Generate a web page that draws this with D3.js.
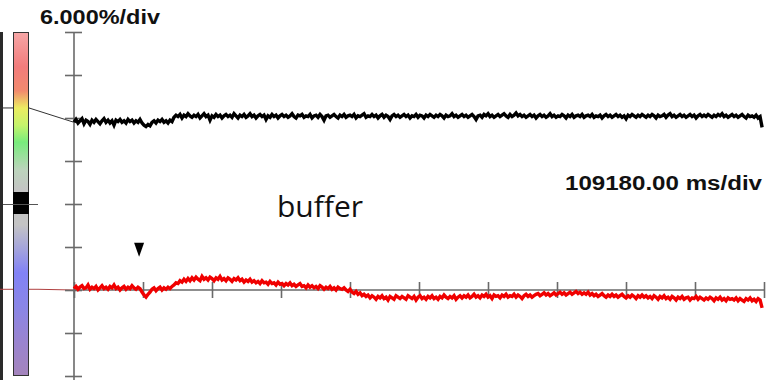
<!DOCTYPE html>
<html>
<head>
<meta charset="utf-8">
<script src="https://cdn.jsdelivr.net/npm/d3@7"></script>
<style>
  html, body { margin: 0; padding: 0; background: #fff; }
  svg { display: block; }
</style>
</head>
<body>
<svg id="chart" width="771" height="380"></svg>
<script>
// ---------- data ----------
const msPerDiv = 109180;          // x scale: ms per division
const pctPerDiv = 6;              // y scale: % per division
const xDivs = 10;
const yTickValues = [-12, -6, 0, 6, 12, 18, 24, 30, 36];
const xTickValues = [0,1,2,3,4,5,6,7,8,9,10].map(d => d * msPerDiv);
const sampleInterval = 3165;      // ms between plotted samples
const yLabel = "6.000%/div";
const xLabel = "109180.00 ms/div";
const annotation = "buffer";
const markerTime = 103000;        // ms, event marker
const markerLevel = 5.6;          // %

// black channel (upper trace), %
const blackTrace = [
  23.4, 23.8, 23.3, 23.6, 23.9, 23.2, 23.7, 23.5, 23.1, 23.7, 23.4, 23.8, 23.5, 23.2, 23.6,
  23.9, 23.4, 23.7, 23.3, 23.6, 23.0, 23.7, 23.5, 23.8, 23.4, 23.6, 23.3, 23.8, 23.5, 23.7,
  23.3, 23.6, 23.4, 23.8, 23.3, 23.0, 22.8, 23.1, 22.9, 23.4, 23.6, 23.3, 23.7, 23.5, 23.8,
  23.4, 23.6, 23.3, 23.7, 23.5, 24.1, 24.4, 24.2, 24.5, 24.0, 24.4, 24.2, 24.6, 24.3, 24.1,
  24.4, 24.2, 24.5, 24.0, 24.3, 24.6, 24.2, 24.4, 23.7, 24.3, 24.1, 24.5, 24.2, 24.4, 24.0,
  24.3, 24.5, 24.2, 24.4, 24.1, 24.6, 24.3, 24.0, 24.4, 24.2, 24.5, 24.1, 24.3, 24.6, 24.2,
  24.4, 24.0, 24.3, 24.5, 24.2, 24.4, 23.8, 24.3, 24.1, 24.5, 24.2, 24.4, 24.0, 24.3, 24.5,
  24.2, 24.4, 24.1, 24.3, 24.6, 24.2, 24.0, 24.4, 24.3, 24.5, 24.1, 24.3, 24.2, 24.5, 24.0,
  24.3, 24.4, 24.1, 24.5, 24.2, 23.7, 24.3, 24.4, 24.1, 24.3, 24.5, 24.2, 24.0, 24.4, 24.2,
  24.5, 24.1, 24.3, 24.4, 24.2, 24.5, 24.0, 24.3, 24.2, 24.4, 24.6, 24.1, 24.3, 24.2, 24.5,
  24.2, 24.4, 24.0, 24.3, 24.5, 24.1, 24.4, 24.2, 23.8, 24.3, 24.5, 24.2, 24.4, 24.1, 24.3,
  24.5, 24.2, 24.4, 24.0, 24.3, 24.2, 24.5, 24.1, 24.4, 24.3, 24.0, 24.4, 24.2, 24.5, 24.3,
  24.1, 24.4, 24.2, 24.5, 24.3, 24.0, 24.4, 24.2, 24.3, 24.6, 24.2, 24.4, 24.1, 24.3, 24.5,
  24.2, 24.4, 24.1, 24.3, 24.5, 24.2, 23.8, 24.3, 24.4, 24.1, 24.5, 24.3, 24.6, 24.2, 24.4,
  24.1, 24.3, 24.5, 24.2, 24.4, 24.6, 24.3, 24.1, 24.5, 24.2, 24.4, 24.7, 24.3, 24.5, 24.2,
  24.4, 24.1, 24.3, 24.5, 24.2, 24.4, 24.0, 24.3, 24.5, 24.2, 24.4, 24.1, 24.3, 24.6, 24.2,
  24.4, 24.1, 24.3, 24.2, 24.5, 24.3, 24.0, 24.4, 24.2, 24.5, 24.1, 24.3, 24.4, 24.2, 24.5,
  24.1, 24.3, 24.4, 24.2, 24.5, 24.1, 24.3, 24.2, 24.4, 24.0, 24.3, 24.5, 24.2, 24.4, 24.1,
  24.3, 24.5, 24.2, 24.4, 24.1, 24.3, 23.9, 24.4, 24.2, 24.5, 24.3, 24.1, 24.4, 24.2, 24.5,
  24.3, 24.1, 24.4, 24.2, 24.5, 24.3, 24.0, 24.4, 24.2, 24.3, 24.5, 24.1, 24.4, 24.6, 24.2,
  24.4, 24.1, 24.3, 24.5, 24.2, 24.4, 24.1, 24.3, 24.5, 24.2, 24.4, 24.0, 24.3, 24.5, 24.2,
  24.4, 24.2, 24.5, 24.3, 24.1, 24.4, 24.2, 24.5, 24.3, 24.6, 24.2, 24.4, 24.1, 24.3, 24.5,
  24.2, 24.4, 24.1, 24.3, 24.5, 24.2, 24.0, 24.4, 24.2, 24.3, 24.1, 24.4, 24.0, 24.2, 22.7
];

// red channel (lower trace), %
const redTrace = [
  0.2, 0.5, 0.1, 0.4, 0.6, 0.2, 0.3, 0.7, 0.1, 0.4, 0.2, 0.5, 0.0, 0.3, 0.6,
  0.2, 0.4, 0.1, 0.5, 0.3, 0.7, 0.2, 0.4, 0.0, 0.3, 0.5, 0.1, 0.4, 0.2, 0.6,
  0.3, 0.1, 0.4, 0.2, -0.3, -0.7, -1.0, -0.6, -0.3, 0.1, 0.3, -0.1, 0.2, 0.4, 0.0,
  0.3, 0.1, 0.4, 0.2, 0.5, 0.7, 1.0, 0.9, 1.3, 1.1, 1.5, 1.2, 1.6, 1.3, 1.7,
  1.4, 1.8, 1.5, 1.3, 1.9, 1.5, 1.7, 1.4, 1.8, 1.6, 1.3, 1.7, 1.5, 1.9, 1.4,
  1.6, 1.3, 1.7, 1.5, 1.2, 1.6, 1.4, 1.7, 1.3, 1.5, 1.1, 1.4, 1.2, 1.5, 1.1,
  1.3, 1.0, 1.2, 0.9, 1.3, 1.0, 1.1, 0.8, 1.2, 0.9, 1.0, 0.7, 1.1, 0.8, 0.9,
  0.6, 0.9, 0.7, 1.0, 0.6, 0.8, 0.5, 0.7, 0.9, 0.5, 0.6, 0.3, 0.7, 0.4, 0.6,
  0.3, 0.5, 0.2, 0.6, 0.4, 0.1, 0.4, 0.2, 0.5, 0.1, 0.3, 0.0, 0.4, 0.2, 0.1,
  0.3, 0.0, -0.2, 0.1, -0.3, -0.5, -0.2, -0.6, -0.4, -0.8, -0.6, -0.9, -0.7, -1.1, -0.8,
  -1.0, -1.3, -0.9, -1.1, -0.8, -1.2, -1.0, -1.4, -0.9, -1.1, -1.3, -0.8, -1.0, -1.2, -0.9,
  -1.1, -1.3, -0.8, -1.0, -1.2, -0.9, -1.4, -1.0, -0.8, -1.2, -1.0, -1.3, -0.9, -1.1, -0.8,
  -1.2, -1.0, -1.3, -0.9, -1.1, -0.7, -1.0, -1.2, -0.9, -1.1, -0.8, -1.3, -1.0, -0.8, -1.1,
  -0.8, -1.0, -0.7, -1.1, -0.9, -0.6, -1.0, -0.8, -1.1, -0.7, -0.9, -0.6, -1.0, -0.8, -1.2,
  -0.7, -0.9, -0.8, -1.1, -0.7, -0.9, -0.6, -1.0, -0.8, -0.9, -0.6, -1.0, -0.7, -0.9, -1.2,
  -0.8, -0.6, -0.9, -0.7, -1.0, -0.8, -0.6, -0.5, -0.8, -0.6, -0.4, -0.7, -0.5, -0.8, -0.6,
  -0.4, -0.7, -0.5, -0.3, -0.6, -0.4, -0.7, -0.5, -0.3, -0.6, -0.4, -0.2, -0.5, -0.3, -0.6,
  -0.4, -0.6, -0.3, -0.7, -0.5, -0.8, -0.6, -0.9, -0.7, -0.5, -0.8, -1.0, -0.7, -0.9, -0.6,
  -0.9, -0.7, -1.0, -0.8, -0.6, -0.9, -1.1, -0.8, -1.0, -0.7, -0.9, -1.2, -0.8, -1.0, -0.7,
  -1.0, -0.8, -1.1, -0.9, -1.2, -0.8, -1.0, -1.3, -0.9, -1.1, -0.8, -1.2, -1.0, -1.3, -0.9,
  -1.1, -1.4, -1.0, -1.2, -0.9, -1.3, -1.1, -1.0, -1.4, -1.1, -1.2, -0.9, -1.3, -1.0, -1.2,
  -1.4, -1.1, -1.3, -1.0, -1.2, -1.5, -1.1, -1.3, -1.0, -1.4, -1.2, -1.5, -1.1, -1.3, -1.2,
  -1.4, -1.1, -1.5, -1.2, -1.4, -1.6, -1.2, -1.4, -1.1, -1.5, -1.3, -1.6, -1.2, -1.4, -2.5
];

// colour-bar gradient stops (offset, colour)
const barStops = [
  [0.00, "#f6a6a6"], [0.10, "#f27c7c"], [0.17, "#f28a6e"],
  [0.22, "#ecec62"], [0.27, "#c6f46c"], [0.32, "#78ec7c"],
  [0.40, "#bcd4bc"], [0.46, "#c4c4c4"], [0.56, "#c4c4c4"],
  [0.63, "#a4a4dc"], [0.70, "#8282f6"], [0.80, "#8a86e6"],
  [0.90, "#9a84d0"], [1.00, "#a484bc"]
];

// ---------- drawing ----------
const svg = d3.select("#chart");

const x = d3.scaleLinear().domain([0, xDivs * msPerDiv]).range([74, 764]);
const y = d3.scaleLinear().domain([-12, 36]).range([376, 32]);

// dark strip at left edge
svg.append("rect").attr("x", 0).attr("y", 32).attr("width", 3).attr("height", 348).attr("fill", "#2a2a2a");

// colour bar
const defs = svg.append("defs");
const grad = defs.append("linearGradient").attr("id", "bar").attr("x1", 0).attr("x2", 0).attr("y1", 0).attr("y2", 1);
grad.selectAll("stop").data(barStops).join("stop")
  .attr("offset", d => d[0]).attr("stop-color", d => d[1]);
svg.append("rect").attr("x", 13.5).attr("y", 32.5).attr("width", 15).attr("height", 343)
  .attr("fill", "url(#bar)").attr("stroke", "#333").attr("stroke-width", 1);
// black band (selection) on colour bar
svg.append("rect").attr("x", 13).attr("y", 192).attr("width", 16).attr("height", 22).attr("fill", "#000");
svg.append("line").attr("x1", 3).attr("x2", 38).attr("y1", 204.5).attr("y2", 204.5)
  .attr("stroke", "#555").attr("stroke-width", 1.2);

// connector lines from colour bar to traces
svg.append("path")
  .attr("d", `M0,${y(25.4)}H13M29,${y(25.4)}L${x(0)},${y(blackTrace[0])}`)
  .attr("fill", "none").attr("stroke", "#333").attr("stroke-width", 1);
svg.append("path")
  .attr("d", `M0,${y(0.1)}H13M29,${y(0.1)}H38L${x(0)},${y(0)}`)
  .attr("fill", "none").attr("stroke", "#b04040").attr("stroke-width", 1);

// y axis (ticks on both sides)
const yAxis = d3.axisLeft(y).tickValues(yTickValues).tickSize(8).tickFormat("");
const gy = svg.append("g").attr("transform", `translate(${x(0)},0)`).call(yAxis);
gy.select(".domain").attr("d", `M0,${y(36)}V380`).attr("stroke", "#6a6a6a").attr("stroke-width", 1.6);
gy.selectAll(".tick line").attr("x1", 8).attr("x2", -9).attr("stroke", "#6a6a6a").attr("stroke-width", 1.6);

// x axis on zero line (ticks on both sides)
const xAxis = d3.axisBottom(x).tickValues(xTickValues).tickSize(8).tickFormat("");
const gx = svg.append("g").attr("transform", `translate(0,${y(0)})`).call(xAxis);
gx.select(".domain").attr("d", `M${x(0)},0H${x(xDivs * msPerDiv)}`).attr("stroke", "#6a6a6a").attr("stroke-width", 1.6);
gx.selectAll(".tick line").attr("y1", -8).attr("y2", 8).attr("stroke", "#6a6a6a").attr("stroke-width", 1.6);

// traces
const line = d3.line().x((d, i) => x(i * sampleInterval)).y(d => y(d));
svg.append("path").datum(blackTrace).attr("d", line)
  .attr("fill", "none").attr("stroke", "#000").attr("stroke-width", 3.4).attr("stroke-linejoin", "miter");
svg.append("path").datum(redTrace).attr("d", line)
  .attr("fill", "none").attr("stroke", "#f00000").attr("stroke-width", 3.4).attr("stroke-linejoin", "miter");

// event marker
const mx = x(markerTime), my = y(markerLevel);
svg.append("path").attr("d", `M${mx - 5},${my - 7}L${mx + 5},${my - 7}L${mx},${my + 7}Z`).attr("fill", "#000");

// labels
svg.append("text").attr("x", 40).attr("y", 24).text(yLabel)
  .attr("font-family", "Liberation Sans, Arial, sans-serif").attr("font-weight", "bold").attr("font-size", 20)
  .attr("textLength", 120).attr("lengthAdjust", "spacingAndGlyphs").attr("fill", "#111");
svg.append("text").attr("x", 565).attr("y", 190).text(xLabel)
  .attr("font-family", "Liberation Sans, Arial, sans-serif").attr("font-weight", "bold").attr("font-size", 20)
  .attr("textLength", 197).attr("lengthAdjust", "spacingAndGlyphs").attr("fill", "#111");
svg.append("text").attr("x", 277).attr("y", 217).text(annotation)
  .attr("font-family", "Open Sans, sans-serif").attr("font-size", 30).attr("fill", "#111");
</script>
</body>
</html>
